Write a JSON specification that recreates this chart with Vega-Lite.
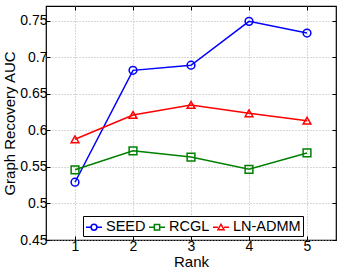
{
  "$schema": "https://vega.github.io/schema/vega-lite/v6.json",
  "width": 290,
  "height": 234,
  "autosize": {"type": "none"},
  "padding": {"left": 46, "top": 6, "right": 6, "bottom": 34},
  "config": {
    "font": "Liberation Sans",
    "view": {"stroke": "black", "strokeWidth": 1.2},
    "axis": {
      "labelFont": "Liberation Sans", "titleFont": "Liberation Sans",
      "labelFontSize": 14, "titleFontSize": 15, "titleFontWeight": "normal",
      "labelColor": "black", "titleColor": "black",
      "domain": false, "tickColor": "black", "tickSize": -4,
      "gridColor": "#b0b0b0", "gridDash": [1, 2], "gridOpacity": 1
    }
  },
  "data": {"values": [
    {"rank": 1, "method": "SEED", "auc": 0.529},
    {"rank": 2, "method": "SEED", "auc": 0.682},
    {"rank": 3, "method": "SEED", "auc": 0.689},
    {"rank": 4, "method": "SEED", "auc": 0.749},
    {"rank": 5, "method": "SEED", "auc": 0.733},
    {"rank": 1, "method": "RCGL", "auc": 0.546},
    {"rank": 2, "method": "RCGL", "auc": 0.572},
    {"rank": 3, "method": "RCGL", "auc": 0.5635},
    {"rank": 4, "method": "RCGL", "auc": 0.5467},
    {"rank": 5, "method": "RCGL", "auc": 0.569},
    {"rank": 1, "method": "LN-ADMM", "auc": 0.5877},
    {"rank": 2, "method": "LN-ADMM", "auc": 0.621},
    {"rank": 3, "method": "LN-ADMM", "auc": 0.6347},
    {"rank": 4, "method": "LN-ADMM", "auc": 0.6233},
    {"rank": 5, "method": "LN-ADMM", "auc": 0.6132}
  ]},
  "layer": [
    {
      "mark": {"type": "line", "strokeWidth": 1.5},
      "encoding": {
        "x": {"field": "rank", "type": "quantitative",
              "scale": {"domain": [0.5, 5.5], "nice": false, "zero": false},
              "axis": {"values": [1, 2, 3, 4, 5], "title": "Rank", "titlePadding": 1, "labelPadding": 3, "format": "d"}},
        "y": {"field": "auc", "type": "quantitative",
              "scale": {"domain": [0.45, 0.77], "nice": false, "zero": false},
              "axis": {"values": [0.45, 0.5, 0.55, 0.6, 0.65, 0.7, 0.75], "title": "Graph Recovery AUC", "titlePadding": 2, "labelPadding": 3, "format": "~g"}},
        "color": {"field": "method", "type": "nominal", "legend": null,
                  "scale": {"domain": ["SEED", "RCGL", "LN-ADMM"], "range": ["#0000ff", "#008000", "#ff0000"]}}
      }
    },
    {
      "mark": {"type": "point", "filled": false, "strokeWidth": 1.5, "size": 60, "opacity": 1},
      "encoding": {
        "x": {"field": "rank", "type": "quantitative",
              "axis": {"orient": "top", "values": [1, 2, 3, 4, 5], "labels": false, "title": null, "grid": false}},
        "y": {"field": "auc", "type": "quantitative",
              "axis": {"orient": "right", "values": [0.45, 0.5, 0.55, 0.6, 0.65, 0.7, 0.75], "labels": false, "title": null, "grid": false}},
        "color": {"field": "method", "type": "nominal", "legend": null},
        "shape": {"field": "method", "type": "nominal", "legend": null,
                  "scale": {"domain": ["SEED", "RCGL", "LN-ADMM"], "range": ["circle", "square", "triangle-up"]}}
      }
    },
    {
      "mark": {"type": "point", "filled": false, "opacity": 0, "strokeWidth": 1.5},
      "encoding": {
        "color": {"field": "method", "type": "nominal",
                  "legend": {"title": null, "orient": "none", "legendX": 37, "legendY": 210, "direction": "horizontal",
                             "strokeColor": "black", "fillColor": "white", "padding": 2,
                             "labelFontSize": 14.5, "labelFont": "Liberation Sans", "labelColor": "black",
                             "symbolSize": 256, "symbolStrokeWidth": 1.5, "symbolOpacity": 1, "symbolFillColor": "transparent",
                             "labelOffset": 3, "columnPadding": 0, "symbolOffset": 0}},
        "shape": {"field": "method", "type": "nominal",
                  "scale": {"domain": ["SEED", "RCGL", "LN-ADMM"],
                            "range": [
                              "M-1,0H-0.36M0.36,0H1M0.36,0A0.36,0.36,0,1,1,-0.36,0A0.36,0.36,0,1,1,0.36,0",
                              "M-1,0H-0.33M0.33,0H1M-0.33,-0.33H0.33V0.33H-0.33Z",
                              "M-1,0H-0.38M0.38,0H1M0,-0.36L0.38,0.3L-0.38,0.3Z"
                            ]},
                  "legend": {"title": null}}
      }
    }
  ],
  "resolve": {"scale": {"shape": "independent"}, "axis": {"x": "independent", "y": "independent"},
              "legend": {"color": "independent", "shape": "independent"}}
}
